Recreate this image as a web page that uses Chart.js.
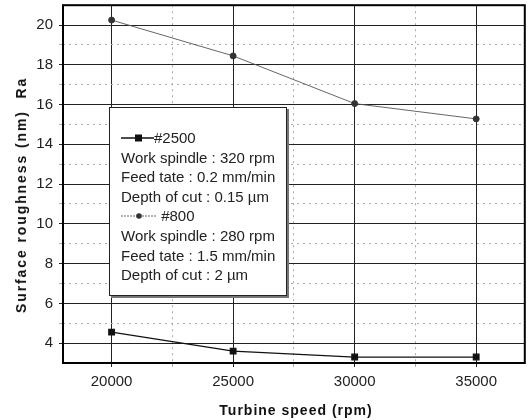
<!DOCTYPE html>
<html>
<head>
<meta charset="utf-8">
<script src="https://cdn.jsdelivr.net/npm/chart.js@4/dist/chart.umd.min.js"></script>
<style>
  html, body { margin: 0; padding: 0; background: #fff; }
  #wrap { position: relative; width: 530px; height: 420px; overflow: hidden; }
  #legend {
    position: absolute; left: 109px; top: 107px; width: 178px; height: 189px;
    background: #fff; border: 1px solid #222; box-shadow: 2px 2px 0 #777;
    font-family: "Liberation Sans", Arial, sans-serif; font-size: 15px; color: #222;
    box-sizing: border-box;
  }
  #legend .ln { position: absolute; left: 11px; height: 20px; line-height: 20px; white-space: nowrap; }
  .sw { display: inline-block; vertical-align: middle; position: relative; top: -1px; }
  .title { position: absolute; font-family: "Liberation Sans", Arial, sans-serif; font-weight: bold;
    font-size: 14px; color: #111; white-space: nowrap; }
  #xt { left: 296px; top: 410px; transform: translate(-50%, -50%); letter-spacing: 1px; }
  #yt { left: 21px; top: 195px; transform: translate(-50%, -50%) rotate(-90deg); letter-spacing: 1.9px; }
</style>
</head>
<body>
<div id="wrap">
  <canvas id="c" width="530" height="420"></canvas>
  <div id="legend"></div>
  <div class="title" id="xt">Turbine speed (rpm)</div>
  <div class="title" id="yt">Surface roughness (nm)&nbsp; Ra</div>
</div>
<script>
const speeds = [20000, 25000, 30000, 35000];
const ra2500 = [4.55, 3.6, 3.3, 3.3];
const ra800 = [20.25, 18.45, 16.05, 15.28];
const xTicks = [20000, 25000, 30000, 35000];
const yTicks = [4, 6, 8, 10, 12, 14, 16, 18, 20];
const legendLines = [
  { series: "#2500" },
  "Work spindle : 320 rpm",
  "Feed tate : 0.2 mm/min",
  "Depth of cut : 0.15 \u00b5m",
  { series: "#800" },
  "Work spindle : 280 rpm",
  "Feed tate : 1.5 mm/min",
  "Depth of cut : 2 \u00b5m"
];

const lg = document.getElementById('legend');
legendLines.forEach((l, i) => {
  const d = document.createElement('div');
  d.className = 'ln';
  d.style.top = (20 + i * 19.6) + 'px';
  if (typeof l === 'string') { d.textContent = l; }
  else if (l.series === '#2500') {
    d.innerHTML = '<svg class="sw" width="33" height="10"><line x1="0" y1="5" x2="33" y2="5" stroke="#111" stroke-width="1.3"/><rect x="14" y="1.5" width="7" height="7" fill="#111"/></svg>';
    d.appendChild(document.createTextNode(l.series));
  } else {
    d.innerHTML = '<svg class="sw" width="36" height="10"><line x1="0" y1="5" x2="36" y2="5" stroke="#555" stroke-width="0.9" stroke-dasharray="2 1"/><circle cx="18" cy="5" r="2.8" fill="#333"/></svg>';
    d.appendChild(document.createTextNode('\u00a0' + l.series));
  }
  lg.appendChild(d);
});

const frame = {
  id: 'frame',
  afterDraw(chart) {
    const { ctx, chartArea: a } = chart;
    ctx.save();
    ctx.strokeStyle = '#000';
    ctx.lineWidth = 2;
    ctx.strokeRect(a.left, a.top, a.right - a.left, a.bottom - a.top);
    ctx.restore();
  }
};

const font = { family: '"Liberation Sans", Arial, sans-serif', size: 15 };

new Chart(document.getElementById('c'), {
  type: 'line',
  data: {
    datasets: [
      {
        label: '#2500',
        data: speeds.map((x, i) => ({ x, y: ra2500[i] })),
        borderColor: '#111', borderWidth: 1.2,
        pointStyle: 'rect', pointRadius: 4, pointBackgroundColor: '#111', pointBorderColor: '#111',
        tension: 0
      },
      {
        label: '#800',
        data: speeds.map((x, i) => ({ x, y: ra800[i] })),
        borderColor: '#555', borderWidth: 0.9,
        pointStyle: 'circle', pointRadius: 3, pointBackgroundColor: '#333', pointBorderColor: '#333',
        tension: 0
      }
    ]
  },
  options: {
    responsive: false, animation: false, devicePixelRatio: 1,
    layout: { padding: { top: 5, right: 2, left: 0, bottom: 0 } },
    plugins: { legend: { display: false }, tooltip: { enabled: false } },
    scales: {
      x: {
        type: 'linear', min: 18000, max: 37000,
        afterBuildTicks(s) {
          const t = [];
          for (let v = 20000; v <= 35000; v += 2500) t.push({ value: v });
          s.ticks = t;
        },
        afterFit(s) { s.height = 57; s.paddingLeft = 0; s.paddingRight = 0; s.paddingTop = 0; s.paddingBottom = 0; },
        ticks: {
          font, color: '#222', padding: 6, maxRotation: 0,
          callback: v => xTicks.includes(v) ? String(v) : ''
        },
        grid: {
          color: c => xTicks.includes(c.tick && c.tick.value) ? '#222' : '#aaa',
          lineWidth: 1, drawTicks: true, tickLength: 4
        },
        border: {
          display: false,
          dash: c => (c.tick && xTicks.includes(c.tick.value)) ? [] : [2, 4]
        }
      },
      y: {
        type: 'linear', min: 3, max: 21,
        afterBuildTicks(s) {
          const t = [];
          for (let v = 4; v <= 20; v += 1) t.push({ value: v });
          s.ticks = t;
        },
        afterFit(s) { s.width = 63; s.paddingLeft = 0; s.paddingRight = 0; s.paddingTop = 0; s.paddingBottom = 0; },
        ticks: {
          font, color: '#222', padding: 6,
          callback: v => yTicks.includes(v) ? String(v) : ''
        },
        grid: {
          color: c => yTicks.includes(c.tick && c.tick.value) ? '#222' : '#aaa',
          lineWidth: 1, drawTicks: true, tickLength: 4
        },
        border: {
          display: false,
          dash: c => (c.tick && yTicks.includes(c.tick.value)) ? [] : [2, 4]
        }
      }
    }
  },
  plugins: [frame]
});
</script>
</body>
</html>
